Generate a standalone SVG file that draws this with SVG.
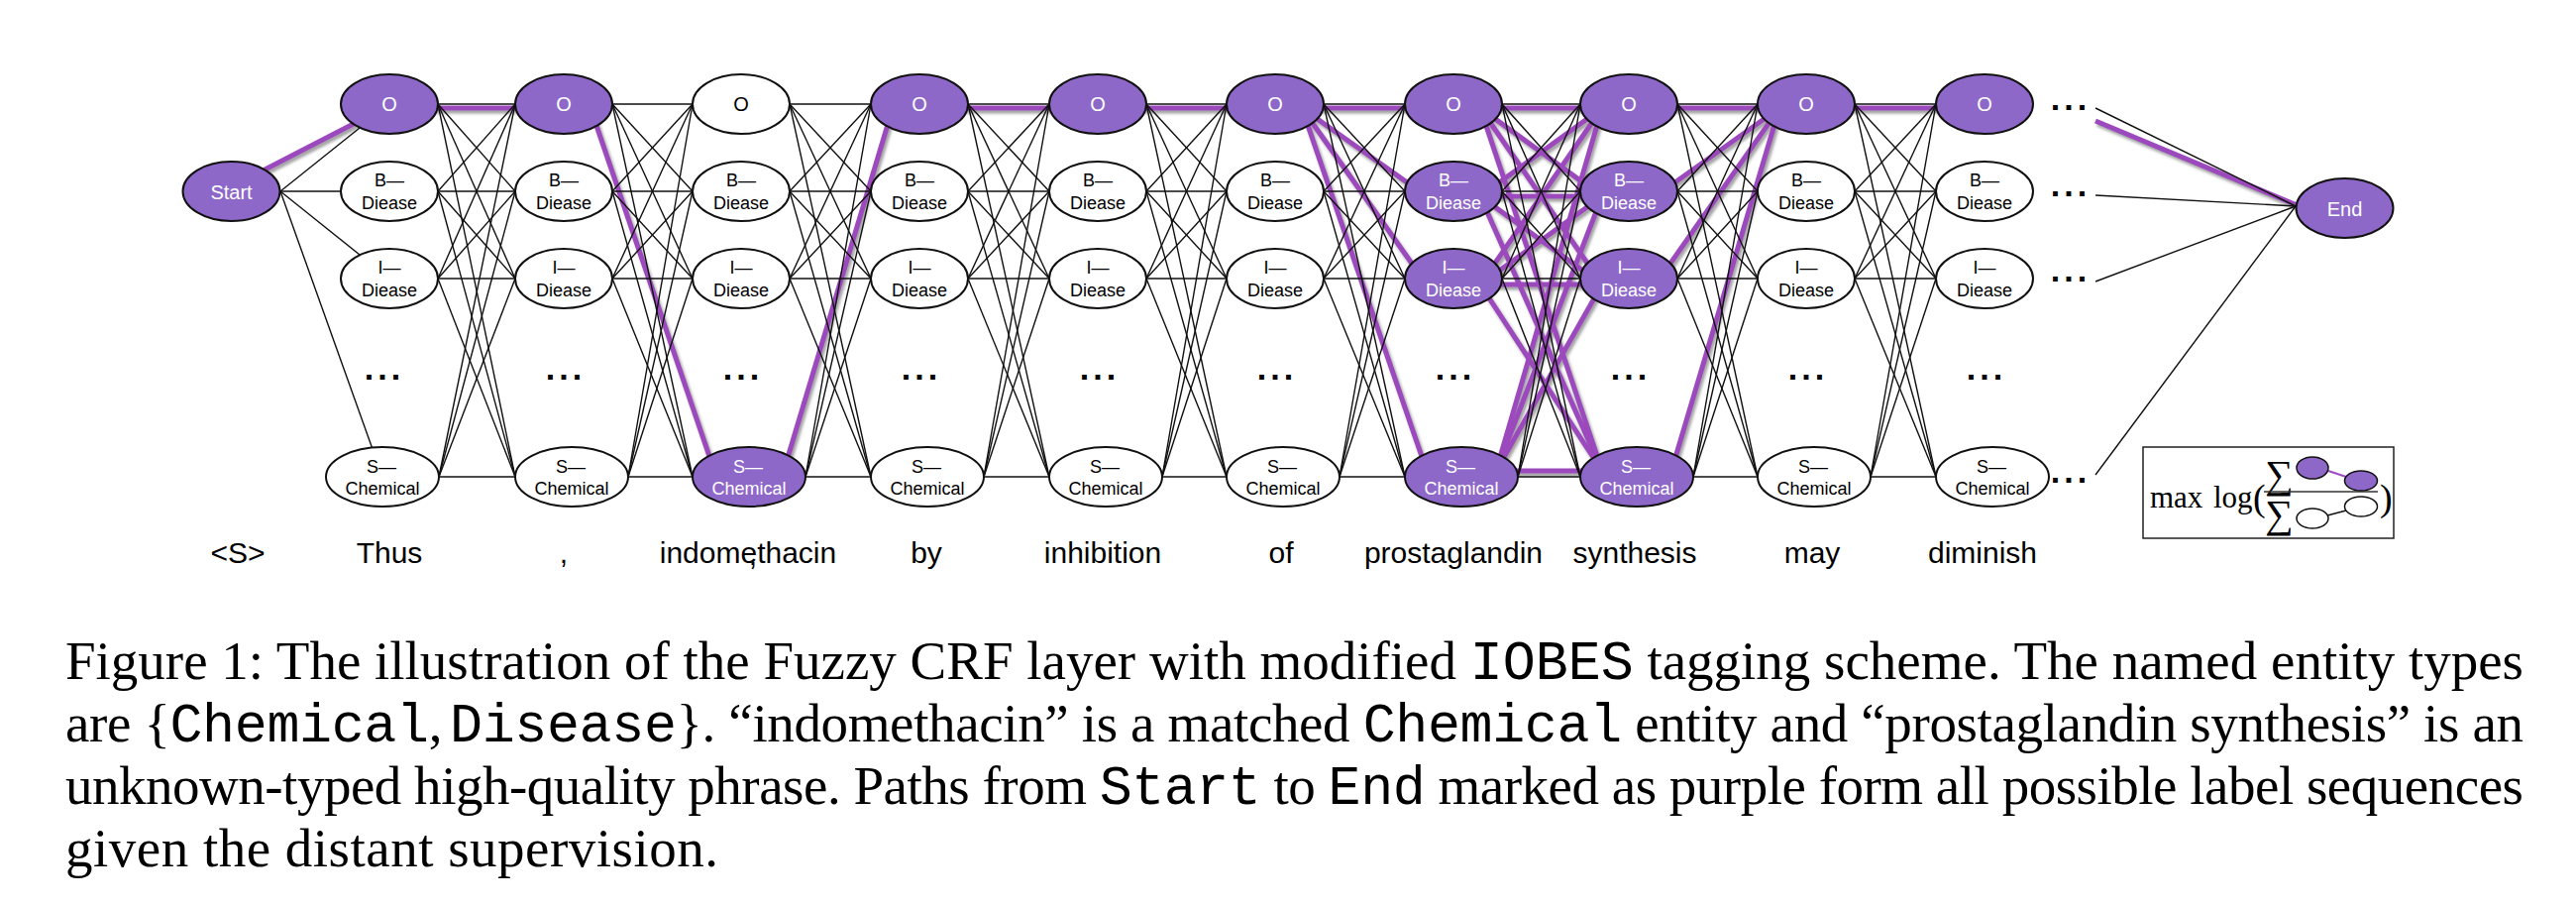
<svg xmlns="http://www.w3.org/2000/svg" width="2600" height="916" viewBox="0 0 2600 916">
<defs>
<style>
.bg{fill:#ffffff}
.e line{stroke:#111;stroke-width:1.4;fill:none}
.hl line{stroke:#9c48be;stroke-width:5;stroke-linecap:butt}
.w{fill:#ffffff;stroke:#111;stroke-width:2}
.p{fill:#8e68c9;stroke:#111;stroke-width:2}
text{font-family:"Liberation Sans",Arial,sans-serif}
.lb{font-size:18px;fill:#000;text-anchor:middle}
.lw{font-size:18px;fill:#fff;text-anchor:middle}
.ob{font-size:20px;fill:#000;text-anchor:middle}
.ow{font-size:20px;fill:#fff;text-anchor:middle}
.big{font-size:20px;fill:#fff;text-anchor:middle}
.dots{font-size:34px;font-weight:bold;letter-spacing:4px;fill:#000;text-anchor:middle}
.word{font-size:30px;fill:#000;text-anchor:middle}
.cap{font-family:"Liberation Serif","Times New Roman",serif;font-size:55px;fill:#000}
.mono{font-family:"Liberation Mono","Courier New",monospace}
.math{font-family:"Liberation Serif","Times New Roman",serif;fill:#000}
</style>
<filter id="shadow" x="-20%" y="-20%" width="140%" height="140%">
<feDropShadow dx="2" dy="3" stdDeviation="1.5" flood-color="#777" flood-opacity="0.7"/>
</filter>
</defs>
<rect class="bg" x="0" y="0" width="2600" height="916"/>

<g id="connectors">
<g id="highlighted-paths" class="hl" filter="url(#shadow)">
<line x1="250" y1="180" x2="380" y2="113"/>
<line x1="420" y1="109" x2="542" y2="109"/>
<line x1="596" y1="109" x2="721" y2="475"/>
<line x1="791" y1="475" x2="901" y2="109"/>
<line x1="955" y1="109" x2="1081" y2="109"/>
<line x1="1135" y1="109" x2="1260" y2="109"/>
<line x1="1314" y1="109" x2="1440" y2="109"/>
<line x1="1314" y1="109" x2="1440" y2="198"/>
<line x1="1314" y1="109" x2="1440" y2="287"/>
<line x1="1314" y1="109" x2="1440" y2="475"/>
<line x1="1494" y1="109" x2="1617" y2="109"/>
<line x1="1494" y1="109" x2="1617" y2="198"/>
<line x1="1494" y1="109" x2="1617" y2="287"/>
<line x1="1494" y1="109" x2="1617" y2="475"/>
<line x1="1494" y1="198" x2="1617" y2="109"/>
<line x1="1494" y1="198" x2="1617" y2="198"/>
<line x1="1494" y1="198" x2="1617" y2="287"/>
<line x1="1494" y1="198" x2="1617" y2="475"/>
<line x1="1494" y1="287" x2="1617" y2="109"/>
<line x1="1494" y1="287" x2="1617" y2="198"/>
<line x1="1494" y1="287" x2="1617" y2="287"/>
<line x1="1494" y1="287" x2="1617" y2="475"/>
<line x1="1510" y1="475" x2="1617" y2="109"/>
<line x1="1510" y1="475" x2="1617" y2="198"/>
<line x1="1510" y1="475" x2="1617" y2="287"/>
<line x1="1510" y1="475" x2="1617" y2="475"/>
<line x1="1671" y1="109" x2="1796" y2="109"/>
<line x1="1671" y1="198" x2="1796" y2="109"/>
<line x1="1671" y1="287" x2="1796" y2="109"/>
<line x1="1687" y1="475" x2="1796" y2="109"/>
<line x1="1850" y1="109" x2="1976" y2="109"/>
<line x1="2115" y1="122" x2="2335" y2="214"/>
</g>
<g id="edges" class="e">
<line x1="283" y1="193" x2="393" y2="105"/>
<line x1="283" y1="193" x2="393" y2="193"/>
<line x1="283" y1="193" x2="393" y2="281"/>
<line x1="283" y1="193" x2="386" y2="481"/>

<line x1="442" y1="105" x2="520" y2="105"/><line x1="442" y1="105" x2="520" y2="193"/><line x1="442" y1="105" x2="520" y2="281"/><line x1="442" y1="105" x2="520" y2="481"/>
<line x1="442" y1="193" x2="520" y2="105"/><line x1="442" y1="193" x2="520" y2="193"/><line x1="442" y1="193" x2="520" y2="281"/><line x1="442" y1="193" x2="520" y2="481"/>
<line x1="442" y1="281" x2="520" y2="105"/><line x1="442" y1="281" x2="520" y2="193"/><line x1="442" y1="281" x2="520" y2="281"/><line x1="442" y1="281" x2="520" y2="481"/>
<line x1="443" y1="481" x2="520" y2="105"/><line x1="443" y1="481" x2="520" y2="193"/><line x1="443" y1="481" x2="520" y2="281"/><line x1="443" y1="481" x2="520" y2="481"/>

<line x1="618" y1="105" x2="699" y2="105"/><line x1="618" y1="105" x2="699" y2="193"/><line x1="618" y1="105" x2="699" y2="281"/><line x1="618" y1="105" x2="699" y2="481"/>
<line x1="618" y1="193" x2="699" y2="105"/><line x1="618" y1="193" x2="699" y2="193"/><line x1="618" y1="193" x2="699" y2="281"/><line x1="618" y1="193" x2="699" y2="481"/>
<line x1="618" y1="281" x2="699" y2="105"/><line x1="618" y1="281" x2="699" y2="193"/><line x1="618" y1="281" x2="699" y2="281"/><line x1="618" y1="281" x2="699" y2="481"/>
<line x1="634" y1="481" x2="699" y2="105"/><line x1="634" y1="481" x2="699" y2="193"/><line x1="634" y1="481" x2="699" y2="281"/><line x1="634" y1="481" x2="699" y2="481"/>

<line x1="797" y1="105" x2="879" y2="105"/><line x1="797" y1="105" x2="879" y2="193"/><line x1="797" y1="105" x2="879" y2="281"/><line x1="797" y1="105" x2="879" y2="481"/>
<line x1="797" y1="193" x2="879" y2="105"/><line x1="797" y1="193" x2="879" y2="193"/><line x1="797" y1="193" x2="879" y2="281"/><line x1="797" y1="193" x2="879" y2="481"/>
<line x1="797" y1="281" x2="879" y2="105"/><line x1="797" y1="281" x2="879" y2="193"/><line x1="797" y1="281" x2="879" y2="281"/><line x1="797" y1="281" x2="879" y2="481"/>
<line x1="813" y1="481" x2="879" y2="105"/><line x1="813" y1="481" x2="879" y2="193"/><line x1="813" y1="481" x2="879" y2="281"/><line x1="813" y1="481" x2="879" y2="481"/>

<line x1="977" y1="105" x2="1059" y2="105"/><line x1="977" y1="105" x2="1059" y2="193"/><line x1="977" y1="105" x2="1059" y2="281"/><line x1="977" y1="105" x2="1059" y2="481"/>
<line x1="977" y1="193" x2="1059" y2="105"/><line x1="977" y1="193" x2="1059" y2="193"/><line x1="977" y1="193" x2="1059" y2="281"/><line x1="977" y1="193" x2="1059" y2="481"/>
<line x1="977" y1="281" x2="1059" y2="105"/><line x1="977" y1="281" x2="1059" y2="193"/><line x1="977" y1="281" x2="1059" y2="281"/><line x1="977" y1="281" x2="1059" y2="481"/>
<line x1="993" y1="481" x2="1059" y2="105"/><line x1="993" y1="481" x2="1059" y2="193"/><line x1="993" y1="481" x2="1059" y2="281"/><line x1="993" y1="481" x2="1059" y2="481"/>

<line x1="1157" y1="105" x2="1238" y2="105"/><line x1="1157" y1="105" x2="1238" y2="193"/><line x1="1157" y1="105" x2="1238" y2="281"/><line x1="1157" y1="105" x2="1238" y2="481"/>
<line x1="1157" y1="193" x2="1238" y2="105"/><line x1="1157" y1="193" x2="1238" y2="193"/><line x1="1157" y1="193" x2="1238" y2="281"/><line x1="1157" y1="193" x2="1238" y2="481"/>
<line x1="1157" y1="281" x2="1238" y2="105"/><line x1="1157" y1="281" x2="1238" y2="193"/><line x1="1157" y1="281" x2="1238" y2="281"/><line x1="1157" y1="281" x2="1238" y2="481"/>
<line x1="1173" y1="481" x2="1238" y2="105"/><line x1="1173" y1="481" x2="1238" y2="193"/><line x1="1173" y1="481" x2="1238" y2="281"/><line x1="1173" y1="481" x2="1238" y2="481"/>

<line x1="1336" y1="105" x2="1418" y2="105"/><line x1="1336" y1="105" x2="1418" y2="193"/><line x1="1336" y1="105" x2="1418" y2="281"/><line x1="1336" y1="105" x2="1418" y2="481"/>
<line x1="1336" y1="193" x2="1418" y2="105"/><line x1="1336" y1="193" x2="1418" y2="193"/><line x1="1336" y1="193" x2="1418" y2="281"/><line x1="1336" y1="193" x2="1418" y2="481"/>
<line x1="1336" y1="281" x2="1418" y2="105"/><line x1="1336" y1="281" x2="1418" y2="193"/><line x1="1336" y1="281" x2="1418" y2="281"/><line x1="1336" y1="281" x2="1418" y2="481"/>
<line x1="1352" y1="481" x2="1418" y2="105"/><line x1="1352" y1="481" x2="1418" y2="193"/><line x1="1352" y1="481" x2="1418" y2="281"/><line x1="1352" y1="481" x2="1418" y2="481"/>

<line x1="1516" y1="105" x2="1595" y2="105"/><line x1="1516" y1="105" x2="1595" y2="193"/><line x1="1516" y1="105" x2="1595" y2="281"/><line x1="1516" y1="105" x2="1595" y2="481"/>
<line x1="1516" y1="193" x2="1595" y2="105"/><line x1="1516" y1="193" x2="1595" y2="193"/><line x1="1516" y1="193" x2="1595" y2="281"/><line x1="1516" y1="193" x2="1595" y2="481"/>
<line x1="1516" y1="281" x2="1595" y2="105"/><line x1="1516" y1="281" x2="1595" y2="193"/><line x1="1516" y1="281" x2="1595" y2="281"/><line x1="1516" y1="281" x2="1595" y2="481"/>
<line x1="1532" y1="481" x2="1595" y2="105"/><line x1="1532" y1="481" x2="1595" y2="193"/><line x1="1532" y1="481" x2="1595" y2="281"/><line x1="1532" y1="481" x2="1595" y2="481"/>

<line x1="1693" y1="105" x2="1774" y2="105"/><line x1="1693" y1="105" x2="1774" y2="193"/><line x1="1693" y1="105" x2="1774" y2="281"/><line x1="1693" y1="105" x2="1774" y2="481"/>
<line x1="1693" y1="193" x2="1774" y2="105"/><line x1="1693" y1="193" x2="1774" y2="193"/><line x1="1693" y1="193" x2="1774" y2="281"/><line x1="1693" y1="193" x2="1774" y2="481"/>
<line x1="1693" y1="281" x2="1774" y2="105"/><line x1="1693" y1="281" x2="1774" y2="193"/><line x1="1693" y1="281" x2="1774" y2="281"/><line x1="1693" y1="281" x2="1774" y2="481"/>
<line x1="1709" y1="481" x2="1774" y2="105"/><line x1="1709" y1="481" x2="1774" y2="193"/><line x1="1709" y1="481" x2="1774" y2="281"/><line x1="1709" y1="481" x2="1774" y2="481"/>

<line x1="1872" y1="105" x2="1954" y2="105"/><line x1="1872" y1="105" x2="1954" y2="193"/><line x1="1872" y1="105" x2="1954" y2="281"/><line x1="1872" y1="105" x2="1954" y2="481"/>
<line x1="1872" y1="193" x2="1954" y2="105"/><line x1="1872" y1="193" x2="1954" y2="193"/><line x1="1872" y1="193" x2="1954" y2="281"/><line x1="1872" y1="193" x2="1954" y2="481"/>
<line x1="1872" y1="281" x2="1954" y2="105"/><line x1="1872" y1="281" x2="1954" y2="193"/><line x1="1872" y1="281" x2="1954" y2="281"/><line x1="1872" y1="281" x2="1954" y2="481"/>
<line x1="1888" y1="481" x2="1954" y2="105"/><line x1="1888" y1="481" x2="1954" y2="193"/><line x1="1888" y1="481" x2="1954" y2="281"/><line x1="1888" y1="481" x2="1954" y2="481"/>

<line x1="2115" y1="109" x2="2317" y2="208"/>
<line x1="2115" y1="197" x2="2317" y2="208"/>
<line x1="2115" y1="284" x2="2317" y2="208"/>
<line x1="2115" y1="479" x2="2317" y2="208"/>
</g>
</g>

<g id="nodes">
<g id="start"><ellipse class="p" cx="233.5" cy="193" rx="49" ry="30"/><text class="big" x="233.5" y="200.5">Start</text></g>
<g id="end"><ellipse class="p" cx="2366.5" cy="210" rx="49" ry="30"/><text class="big" x="2366.5" y="217.5">End</text></g>

<g id="c1-O"><ellipse class="p" cx="393" cy="105" rx="49" ry="30"/><text class="ow" x="393" y="112">O</text></g>
<g id="c1-B"><ellipse class="w" cx="393" cy="193" rx="49" ry="30"/><text class="lb" x="393" y="188">B—</text><text class="lb" x="393" y="211">Diease</text></g>
<g id="c1-I"><ellipse class="w" cx="393" cy="281" rx="49" ry="30"/><text class="lb" x="393" y="276">I—</text><text class="lb" x="393" y="299">Diease</text></g>
<g id="c1-dots"><text class="dots" x="388" y="382.5">...</text></g>
<g id="c1-S"><ellipse class="w" cx="386" cy="481" rx="57" ry="30"/><text class="lb" x="385" y="477">S—</text><text class="lb" x="386" y="499">Chemical</text></g>

<g id="c2-O"><ellipse class="p" cx="569" cy="105" rx="49" ry="30"/><text class="ow" x="569" y="112">O</text></g>
<g id="c2-B"><ellipse class="w" cx="569" cy="193" rx="49" ry="30"/><text class="lb" x="569" y="188">B—</text><text class="lb" x="569" y="211">Diease</text></g>
<g id="c2-I"><ellipse class="w" cx="569" cy="281" rx="49" ry="30"/><text class="lb" x="569" y="276">I—</text><text class="lb" x="569" y="299">Diease</text></g>
<g id="c2-dots"><text class="dots" x="571" y="382.5">...</text></g>
<g id="c2-S"><ellipse class="w" cx="577" cy="481" rx="57" ry="30"/><text class="lb" x="576" y="477">S—</text><text class="lb" x="577" y="499">Chemical</text></g>

<g id="c3-O"><ellipse class="w" cx="748" cy="105" rx="49" ry="30"/><text class="ob" x="748" y="112">O</text></g>
<g id="c3-B"><ellipse class="w" cx="748" cy="193" rx="49" ry="30"/><text class="lb" x="748" y="188">B—</text><text class="lb" x="748" y="211">Diease</text></g>
<g id="c3-I"><ellipse class="w" cx="748" cy="281" rx="49" ry="30"/><text class="lb" x="748" y="276">I—</text><text class="lb" x="748" y="299">Diease</text></g>
<g id="c3-dots"><text class="dots" x="750" y="382.5">...</text></g>
<g id="c3-S"><ellipse class="p" cx="756" cy="481" rx="57" ry="30"/><text class="lw" x="755" y="477">S—</text><text class="lw" x="756" y="499">Chemical</text></g>

<g id="c4-O"><ellipse class="p" cx="928" cy="105" rx="49" ry="30"/><text class="ow" x="928" y="112">O</text></g>
<g id="c4-B"><ellipse class="w" cx="928" cy="193" rx="49" ry="30"/><text class="lb" x="928" y="188">B—</text><text class="lb" x="928" y="211">Diease</text></g>
<g id="c4-I"><ellipse class="w" cx="928" cy="281" rx="49" ry="30"/><text class="lb" x="928" y="276">I—</text><text class="lb" x="928" y="299">Diease</text></g>
<g id="c4-dots"><text class="dots" x="930" y="382.5">...</text></g>
<g id="c4-S"><ellipse class="w" cx="936" cy="481" rx="57" ry="30"/><text class="lb" x="935" y="477">S—</text><text class="lb" x="936" y="499">Chemical</text></g>

<g id="c5-O"><ellipse class="p" cx="1108" cy="105" rx="49" ry="30"/><text class="ow" x="1108" y="112">O</text></g>
<g id="c5-B"><ellipse class="w" cx="1108" cy="193" rx="49" ry="30"/><text class="lb" x="1108" y="188">B—</text><text class="lb" x="1108" y="211">Diease</text></g>
<g id="c5-I"><ellipse class="w" cx="1108" cy="281" rx="49" ry="30"/><text class="lb" x="1108" y="276">I—</text><text class="lb" x="1108" y="299">Diease</text></g>
<g id="c5-dots"><text class="dots" x="1110" y="382.5">...</text></g>
<g id="c5-S"><ellipse class="w" cx="1116" cy="481" rx="57" ry="30"/><text class="lb" x="1115" y="477">S—</text><text class="lb" x="1116" y="499">Chemical</text></g>

<g id="c6-O"><ellipse class="p" cx="1287" cy="105" rx="49" ry="30"/><text class="ow" x="1287" y="112">O</text></g>
<g id="c6-B"><ellipse class="w" cx="1287" cy="193" rx="49" ry="30"/><text class="lb" x="1287" y="188">B—</text><text class="lb" x="1287" y="211">Diease</text></g>
<g id="c6-I"><ellipse class="w" cx="1287" cy="281" rx="49" ry="30"/><text class="lb" x="1287" y="276">I—</text><text class="lb" x="1287" y="299">Diease</text></g>
<g id="c6-dots"><text class="dots" x="1289" y="382.5">...</text></g>
<g id="c6-S"><ellipse class="w" cx="1295" cy="481" rx="57" ry="30"/><text class="lb" x="1294" y="477">S—</text><text class="lb" x="1295" y="499">Chemical</text></g>

<g id="c7-O"><ellipse class="p" cx="1467" cy="105" rx="49" ry="30"/><text class="ow" x="1467" y="112">O</text></g>
<g id="c7-B"><ellipse class="p" cx="1467" cy="193" rx="49" ry="30"/><text class="lw" x="1467" y="188">B—</text><text class="lw" x="1467" y="211">Diease</text></g>
<g id="c7-I"><ellipse class="p" cx="1467" cy="281" rx="49" ry="30"/><text class="lw" x="1467" y="276">I—</text><text class="lw" x="1467" y="299">Diease</text></g>
<g id="c7-dots"><text class="dots" x="1469" y="382.5">...</text></g>
<g id="c7-S"><ellipse class="p" cx="1475" cy="481" rx="57" ry="30"/><text class="lw" x="1474" y="477">S—</text><text class="lw" x="1475" y="499">Chemical</text></g>

<g id="c8-O"><ellipse class="p" cx="1644" cy="105" rx="49" ry="30"/><text class="ow" x="1644" y="112">O</text></g>
<g id="c8-B"><ellipse class="p" cx="1644" cy="193" rx="49" ry="30"/><text class="lw" x="1644" y="188">B—</text><text class="lw" x="1644" y="211">Diease</text></g>
<g id="c8-I"><ellipse class="p" cx="1644" cy="281" rx="49" ry="30"/><text class="lw" x="1644" y="276">I—</text><text class="lw" x="1644" y="299">Diease</text></g>
<g id="c8-dots"><text class="dots" x="1646" y="382.5">...</text></g>
<g id="c8-S"><ellipse class="p" cx="1652" cy="481" rx="57" ry="30"/><text class="lw" x="1651" y="477">S—</text><text class="lw" x="1652" y="499">Chemical</text></g>

<g id="c9-O"><ellipse class="p" cx="1823" cy="105" rx="49" ry="30"/><text class="ow" x="1823" y="112">O</text></g>
<g id="c9-B"><ellipse class="w" cx="1823" cy="193" rx="49" ry="30"/><text class="lb" x="1823" y="188">B—</text><text class="lb" x="1823" y="211">Diease</text></g>
<g id="c9-I"><ellipse class="w" cx="1823" cy="281" rx="49" ry="30"/><text class="lb" x="1823" y="276">I—</text><text class="lb" x="1823" y="299">Diease</text></g>
<g id="c9-dots"><text class="dots" x="1825" y="382.5">...</text></g>
<g id="c9-S"><ellipse class="w" cx="1831" cy="481" rx="57" ry="30"/><text class="lb" x="1830" y="477">S—</text><text class="lb" x="1831" y="499">Chemical</text></g>

<g id="c10-O"><ellipse class="p" cx="2003" cy="105" rx="49" ry="30"/><text class="ow" x="2003" y="112">O</text></g>
<g id="c10-B"><ellipse class="w" cx="2003" cy="193" rx="49" ry="30"/><text class="lb" x="2003" y="188">B—</text><text class="lb" x="2003" y="211">Diease</text></g>
<g id="c10-I"><ellipse class="w" cx="2003" cy="281" rx="49" ry="30"/><text class="lb" x="2003" y="276">I—</text><text class="lb" x="2003" y="299">Diease</text></g>
<g id="c10-dots"><text class="dots" x="2005" y="382.5">...</text></g>
<g id="c10-S"><ellipse class="w" cx="2011" cy="481" rx="57" ry="30"/><text class="lb" x="2010" y="477">S—</text><text class="lb" x="2011" y="499">Chemical</text></g>

<g id="row-continuations">
<text class="dots" x="2090" y="110.5">...</text>
<text class="dots" x="2090" y="197.5">...</text>
<text class="dots" x="2090" y="284">...</text>
<text class="dots" x="2090" y="487">...</text>
</g>
</g>

<g id="words">
<text class="word" x="240" y="568">&lt;S&gt;</text>
<text class="word" x="393" y="568">Thus</text>
<text class="word" x="569" y="568">,</text>
<text class="word" x="755" y="568">indomethacin</text>
<text class="word" x="760" y="570">,</text>
<text class="word" x="935" y="568">by</text>
<text class="word" x="1113" y="568">inhibition</text>
<text class="word" x="1293" y="568">of</text>
<text class="word" x="1467" y="568">prostaglandin</text>
<text class="word" x="1650" y="568">synthesis</text>
<text class="word" x="1829" y="568">may</text>
<text class="word" x="2001" y="568">diminish</text>
</g>

<g id="objective">
<rect x="2163" y="451" width="253" height="92" fill="#fff" stroke="#222" stroke-width="1.5"/>
<text class="math" x="2170" y="512" font-size="31">max</text>
<text class="math" x="2234" y="512" font-size="31">log</text>
<text class="math" x="2274" y="515" font-size="38">(</text>
<text class="math" x="2286" y="492" font-size="40">∑</text>
<text class="math" x="2286" y="532" font-size="40">∑</text>
<line x1="2285" y1="496" x2="2400" y2="496" stroke="#333" stroke-width="1.3"/>
<line x1="2350" y1="475" x2="2368" y2="481" stroke="#a04cc4" stroke-width="2"/>
<ellipse cx="2334" cy="472" rx="16" ry="11" fill="#8e68c9" stroke="#111" stroke-width="1.5"/>
<ellipse cx="2383" cy="485" rx="16.5" ry="10" fill="#8e68c9" stroke="#111" stroke-width="1.5"/>
<line x1="2349" y1="520" x2="2368" y2="515" stroke="#111" stroke-width="1.5"/>
<ellipse cx="2334" cy="523" rx="16" ry="10" fill="#fff" stroke="#111" stroke-width="1.5"/>
<ellipse cx="2383" cy="511" rx="16.5" ry="10" fill="#fff" stroke="#111" stroke-width="1.5"/>
<text class="math" x="2402" y="515" font-size="38">)</text>
</g>

<g id="caption">
<text class="cap" x="66" y="685" textLength="2481" lengthAdjust="spacing">Figure 1: The illustration of the Fuzzy CRF layer with modified <tspan class="mono">IOBES</tspan> tagging scheme.  The named entity types</text>
<text class="cap" x="66" y="748" textLength="2481" lengthAdjust="spacing">are {<tspan class="mono">Chemical</tspan>,<tspan class="mono" dx="8">Disease</tspan>}. “indomethacin” is a matched <tspan class="mono">Chemical</tspan> entity and “prostaglandin synthesis” is an</text>
<text class="cap" x="66" y="811" textLength="2481" lengthAdjust="spacing">unknown-typed high-quality phrase. Paths from <tspan class="mono">Start</tspan> to <tspan class="mono">End</tspan> marked as purple form all possible label sequences</text>
<text class="cap" x="66" y="874" textLength="659" lengthAdjust="spacing">given the distant supervision.</text>
</g>
</svg>
